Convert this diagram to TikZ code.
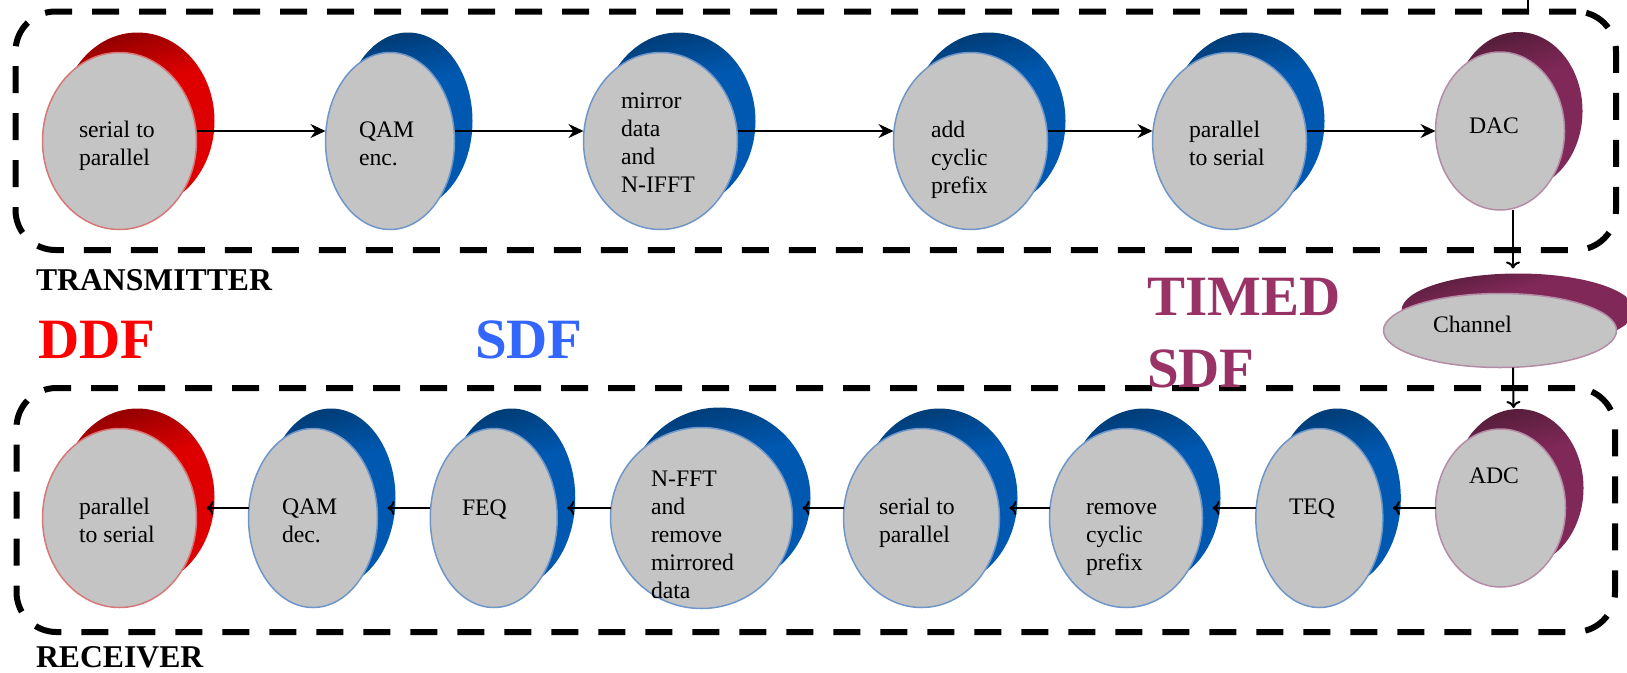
\documentclass[tikz,border=0pt]{standalone}
\usepackage{fontspec}
\setmainfont{Liberation Serif}
\usetikzlibrary{arrows.meta,shapes.geometric}
\definecolor{nodegray}{RGB}{196,196,196}
\definecolor{rDark}{RGB}{150,0,0}
\definecolor{rBright}{RGB}{222,0,0}
\definecolor{rLine}{RGB}{214,120,120}
\definecolor{bDark}{RGB}{0,62,122}
\definecolor{bBright}{RGB}{0,88,176}
\definecolor{bLine}{RGB}{110,150,200}
\definecolor{pDark}{RGB}{88,30,60}
\definecolor{pBright}{RGB}{128,40,88}
\definecolor{pLine}{RGB}{180,140,165}
\definecolor{sdfblue}{RGB}{51,102,255}
\definecolor{timedpur}{RGB}{153,51,102}
\pgfdeclareverticalshading{shadeRed}{100bp}{color(0bp)=(rBright); color(60bp)=(rBright); color(75bp)=(rDark); color(100bp)=(rDark)}
\pgfdeclareverticalshading{shadeBlue}{100bp}{color(0bp)=(bBright); color(60bp)=(bBright); color(75bp)=(bDark); color(100bp)=(bDark)}
\pgfdeclareverticalshading{shadePur}{100bp}{color(0bp)=(pBright); color(60bp)=(pBright); color(75bp)=(pDark); color(100bp)=(pDark)}
\newcommand\ml[1]{\begin{tabular}[t]{@{}l@{}}#1\end{tabular}}
\newcommand\blk[6]{%
  \node[sh#6, minimum width=#4pt, minimum height=#5pt] (#1s) at (#2+18,#3-20) {};
  \node[core#6, minimum width=#4pt, minimum height=#5pt] (#1) at (#2,#3) {};}
\begin{document}
\begin{tikzpicture}[x=1pt,y=-1pt,
  core/.style={ellipse, inner sep=0pt, outer sep=0pt, line width=1.5pt, fill=nodegray},
  coreR/.style={core, draw=rLine},
  coreB/.style={core, draw=bLine},
  coreP/.style={core, draw=pLine},
  sh/.style={ellipse, inner sep=0pt, outer sep=0pt},
  shR/.style={sh, shade, shading=shadeRed, shading angle=15},
  shB/.style={sh, shade, shading=shadeBlue, shading angle=15},
  shP/.style={sh, shade, shading=shadePur, shading angle=15},
  txt/.style={inner sep=0pt, outer sep=0pt, anchor=base west, font=\fontsize{23.7pt}{28pt}\selectfont},
  lbl/.style={inner sep=0pt, outer sep=0pt, anchor=base west, font=\bfseries\fontsize{31.7pt}{36pt}\selectfont},
  big/.style={inner sep=0pt, outer sep=0pt, anchor=base west, font=\bfseries\fontsize{57pt}{72pt}\selectfont},
  dbox/.style={draw, line width=6pt, dash pattern=on 27pt off 20pt, rounded corners=40pt, inner sep=0pt, outer sep=0pt},
  toparr/.style={line width=2pt, -{Stealth[length=15pt,width=14pt,inset=5pt]}},
  botarr/.style={line width=2pt, -{To[length=7pt,width=14pt]}}
]
\useasboundingbox (0,0) rectangle (1627,672);

% dashed containers
\node[dbox, minimum width=1600.5pt, minimum height=238.5pt] (txbox) at (815.75,130.75) {};
\node[dbox, minimum width=1598.5pt, minimum height=244pt] (rxbox) at (815.75,510) {};
\coordinate (edgeA) at (1528,0);
\coordinate (edgeB) at (1528,11);
\draw[line width=1.5pt] (edgeA) -- (edgeB);

% transmitter blocks
\blk{t1}{119.5}{141}{154}{177}{R}
\blk{t2}{390}{141}{129}{177}{B}
\blk{t3}{660.5}{141}{154}{177}{B}
\blk{t4}{970.5}{141}{154}{177}{B}
\blk{t5}{1229.5}{141}{154}{177}{B}
\blk{t6}{1500}{131}{129}{158}{P}
% channel
\blk{ch}{1500}{330.5}{233}{74}{P}
% receiver blocks
\blk{b1}{119.5}{518}{154}{179}{R}
\blk{b2}{313}{518}{129}{179}{B}
\blk{b3}{493.75}{518}{127}{179}{B}
\blk{b4}{701.5}{518}{182}{181}{B}
\blk{b5}{921.5}{518}{156}{179}{B}
\blk{b6}{1126}{518}{153}{179}{B}
\blk{b7}{1319.3}{518}{127}{179}{B}
\blk{b8}{1500.5}{508}{130}{158}{P}

% texts
\node[txt] (t1t) at (79,137) {\ml{serial to\\parallel}};
\node[txt] (t2t) at (359,137) {\ml{QAM\\enc.}};
\node[txt] (t3t) at (621,108) {\ml{mirror\\data\\and\\N-IFFT}};
\node[txt] (t4t) at (931,137) {\ml{add\\cyclic\\prefix}};
\node[txt] (t5t) at (1189,137) {\ml{parallel\\to serial}};
\node[txt] (t6t) at (1469,133) {DAC};
\node[txt] (cht) at (1433,332) {Channel};
\node[txt] (b1t) at (79,514) {\ml{parallel\\to serial}};
\node[txt] (b2t) at (282,514) {\ml{QAM\\dec.}};
\node[txt] (b3t) at (462,515) {FEQ};
\node[txt] (b4t) at (651,486) {\ml{N-FFT\\and\\remove\\mirrored\\data}};
\node[txt] (b5t) at (879,514) {\ml{serial to\\parallel}};
\node[txt] (b6t) at (1086,514) {\ml{remove\\cyclic\\prefix}};
\node[txt] (b7t) at (1289,514) {TEQ};
\node[txt] (b8t) at (1469,483) {ADC};

% labels
\node[lbl] (tr) at (36,290) {TRANSMITTER};
\node[lbl] (rc) at (36,667) {RECEIVER};
\node[big, text=red] (ddf) at (38,358) {DDF};
\node[big, text=sdfblue] (sdf) at (475,358) {SDF};
\node[big, text=timedpur] (tsdf) at (1147,315) {\ml{TIMED\\SDF}};

% transmitter arrows
\draw[toparr] ([yshift=10pt]t1.east) -- ([yshift=10pt]t2.west);
\draw[toparr] ([yshift=10pt]t2.east) -- ([yshift=10pt]t3.west);
\draw[toparr] ([yshift=10pt]t3.east) -- ([yshift=10pt]t4.west);
\draw[toparr] ([yshift=10pt]t4.east) -- ([yshift=10pt]t5.west);
\draw[toparr] ([yshift=10pt]t5.east) -- (t6.west);
% vertical arrows
\draw[botarr, shorten >=5pt] ([xshift=13pt]t6.south) -- ([xshift=-5pt]chs.north);
\draw[botarr, shorten >=1pt] ([xshift=13pt]ch.south) -- ([xshift=-5pt]b8s.north);
% receiver arrows
\draw[botarr, shorten >=-8pt] (b8.west) -- ([yshift=-10pt]b7s.east);
\draw[botarr, shorten >=-8pt] ([yshift=10pt]b7.west) -- ([yshift=-10pt]b6s.east);
\draw[botarr, shorten >=-8pt] ([yshift=10pt]b6.west) -- ([yshift=-10pt]b5s.east);
\draw[botarr, shorten >=-8pt] ([yshift=10pt]b5.west) -- ([yshift=-10pt]b4s.east);
\draw[botarr, shorten >=-8pt] ([yshift=10pt]b4.west) -- ([yshift=-10pt]b3s.east);
\draw[botarr, shorten >=-8pt] ([yshift=10pt]b3.west) -- ([yshift=-10pt]b2s.east);
\draw[botarr, shorten >=-8pt] ([yshift=10pt]b2.west) -- ([yshift=-10pt]b1s.east);
\end{tikzpicture}
\end{document}
